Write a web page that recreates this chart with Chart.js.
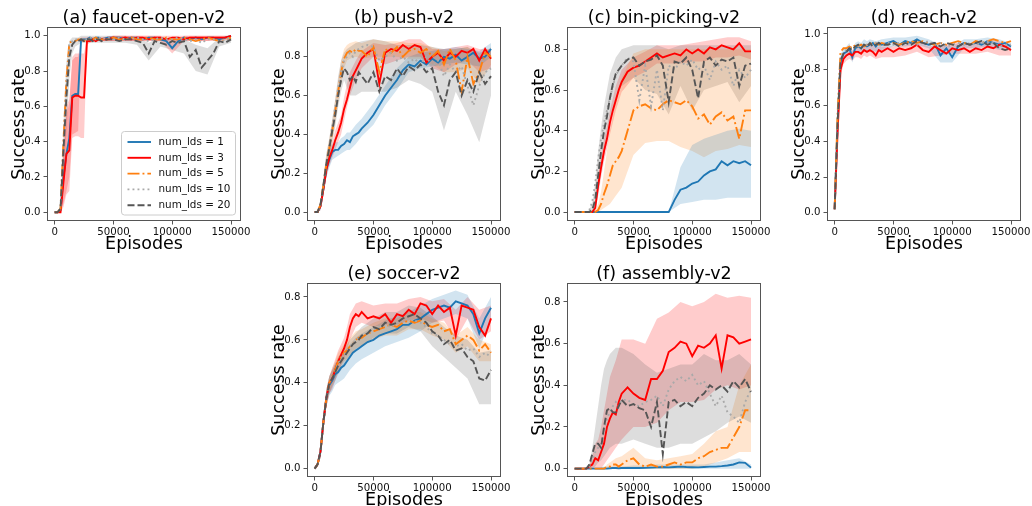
<!DOCTYPE html>
<html>
<head>
<meta charset="utf-8">
<title>Success rate vs episodes</title>
<script src="https://cdn.jsdelivr.net/npm/chart.js@4.4.1/dist/chart.umd.min.js"></script>
<style>
  html, body { margin: 0; padding: 0; background: #fff; }
  body { width: 1032px; height: 506px; overflow: hidden; position: relative; }
  canvas { position: absolute; }
</style>
</head>
<body>
<script>
// x grid for the mean curves and a coarser one for the shaded std bands
const episodes = [0, 2500, 5000, 7500, 10000, 12500, 15000, 17500, 20000, 22500, 25000, 27500, 30000, 32500, 35000, 37500, 40000,
  45000, 50000, 55000, 60000, 65000, 70000, 75000, 80000, 85000, 90000, 95000, 100000, 105000, 110000, 115000, 120000, 125000, 130000, 135000, 140000, 145000, 150000];
const bandEpisodes = [0, 2500, 5000, 7500, 10000, 12500, 15000, 17500, 20000, 22500, 25000, 27500, 30000, 35000, 40000,
  50000, 60000, 70000, 80000, 90000, 100000, 110000, 120000, 130000, 140000, 150000];
const xTicks = [0, 50000, 100000, 150000];
const yTicksFull = [0, 0.2, 0.4, 0.6, 0.8, 1.0];
const yTicksShort = [0, 0.2, 0.4, 0.6, 0.8];
const seriesNames = ['num_lds = 1', 'num_lds = 3', 'num_lds = 5', 'num_lds = 10', 'num_lds = 20'];

// (a) faucet-open-v2
const faucetLds1 = [0, 0, 0.01, 0.2, 0.33, 0.42, 0.66, 0.67, 0.67, 0.98, 0.98, 0.98, 0.99, 0.98, 0.99, 0.99, 0.98,
  0.99, 0.99, 0.99, 0.98, 0.99, 0.99, 0.98, 0.99, 0.99, 0.98, 0.97, 0.93, 0.97, 0.99, 0.98, 0.99, 0.98, 0.99, 0.99, 0.98, 0.99, 1.0];
const faucetLds3 = [0, 0, 0, 0.17, 0.33, 0.35, 0.65, 0.66, 0.66, 0.65, 0.65, 0.97, 0.97, 0.98, 0.97, 0.98, 0.98,
  0.98, 0.99, 0.98, 0.99, 0.98, 0.99, 0.99, 0.98, 0.99, 0.99, 0.98, 0.99, 0.99, 0.98, 0.99, 0.99, 0.99, 0.99, 0.99, 0.99, 0.99, 1.0];
const faucetLds5 = [0, 0, 0.02, 0.4, 0.75, 0.96, 0.97, 0.97, 0.98, 0.98, 0.97, 0.98, 0.98, 0.98, 0.99, 0.98, 0.98,
  0.98, 0.99, 0.98, 0.98, 0.99, 0.98, 0.98, 0.99, 0.98, 0.98, 0.99, 0.98, 0.98, 0.99, 0.98, 0.97, 0.98, 0.99, 0.98, 0.97, 0.98, 0.99];
const faucetLds10 = [0, 0, 0.02, 0.38, 0.72, 0.95, 0.97, 0.98, 0.98, 0.98, 0.98, 0.98, 0.99, 0.98, 0.98, 0.99, 0.98,
  0.99, 0.98, 0.99, 0.98, 0.98, 0.99, 0.98, 0.97, 0.98, 0.99, 0.98, 0.98, 0.99, 0.98, 0.97, 0.98, 0.96, 0.98, 0.98, 0.97, 0.98, 0.99];
const faucetLds20 = [0, 0, 0.02, 0.35, 0.65, 0.88, 0.95, 0.97, 0.97, 0.98, 0.97, 0.98, 0.98, 0.97, 0.98, 0.98, 0.97,
  0.98, 0.98, 0.97, 0.98, 0.98, 0.97, 0.96, 0.9, 0.97, 0.96, 0.95, 0.97, 0.96, 0.97, 0.88, 0.92, 0.82, 0.86, 0.9, 0.97, 0.96, 0.98];
const faucetBand1Lo = [0, 0, 0, 0.05, 0.12, 0.2, 0.44, 0.45, 0.46, 0.96, 0.97, 0.97, 0.97, 0.97, 0.97, 0.97, 0.97, 0.97, 0.97, 0.97, 0.9, 0.97, 0.97, 0.97, 0.97, 0.98];
const faucetBand1Hi = [0, 0, 0.02, 0.33, 0.55, 0.62, 0.86, 0.88, 0.88, 0.99, 0.99, 0.99, 0.99, 0.99, 0.99, 1, 1, 1, 1, 1, 0.96, 1, 1, 1, 1, 1];
const faucetBand3Lo = [0, 0, 0, 0.03, 0.1, 0.12, 0.42, 0.43, 0.43, 0.42, 0.42, 0.95, 0.96, 0.97, 0.97, 0.97, 0.97, 0.97, 0.97, 0.97, 0.97, 0.97, 0.97, 0.97, 0.98, 0.99];
const faucetBand3Hi = [0, 0, 0.02, 0.35, 0.6, 0.64, 0.88, 0.9, 0.9, 0.9, 0.9, 0.99, 0.99, 0.99, 0.99, 1, 1, 1, 1, 1, 1, 1, 1, 1, 1, 1];
const faucetBand20Lo = [0, 0, 0, 0.2, 0.45, 0.75, 0.9, 0.94, 0.95, 0.96, 0.96, 0.96, 0.96, 0.96, 0.96, 0.96, 0.96, 0.95, 0.86, 0.94, 0.92, 0.9, 0.8, 0.78, 0.94, 0.96];
const faucetBand20Hi = [0, 0, 0.04, 0.5, 0.85, 0.97, 0.99, 0.99, 0.99, 1, 1, 1, 1, 1, 1, 1, 1, 0.99, 0.96, 0.99, 0.98, 0.98, 0.95, 0.93, 0.99, 1];

// (b) push-v2
const pushLds1 = [0, 0, 0.03, 0.12, 0.22, 0.27, 0.31, 0.32, 0.32, 0.34, 0.35, 0.37, 0.36, 0.39, 0.4, 0.41, 0.43,
  0.46, 0.5, 0.55, 0.6, 0.64, 0.68, 0.73, 0.76, 0.75, 0.78, 0.76, 0.79, 0.77, 0.8, 0.79, 0.81, 0.78, 0.8, 0.82, 0.79, 0.8, 0.84];
const pushLds3 = [0, 0, 0.03, 0.12, 0.22, 0.28, 0.32, 0.37, 0.41, 0.46, 0.53, 0.58, 0.64, 0.7, 0.73, 0.76, 0.79,
  0.82, 0.84, 0.66, 0.82, 0.84, 0.83, 0.86, 0.84, 0.86, 0.85, 0.77, 0.8, 0.82, 0.78, 0.82, 0.8, 0.83, 0.82, 0.84, 0.78, 0.84, 0.79];
const pushLds5 = [0, 0, 0.04, 0.14, 0.25, 0.33, 0.42, 0.52, 0.62, 0.72, 0.79, 0.82, 0.83, 0.82, 0.84, 0.83, 0.83,
  0.8, 0.85, 0.72, 0.84, 0.82, 0.85, 0.8, 0.83, 0.84, 0.82, 0.84, 0.8, 0.83, 0.76, 0.84, 0.78, 0.62, 0.8, 0.66, 0.72, 0.82, 0.8];
const pushLds10 = [0, 0, 0.04, 0.14, 0.26, 0.34, 0.44, 0.54, 0.64, 0.72, 0.78, 0.8, 0.82, 0.8, 0.83, 0.84, 0.85,
  0.86, 0.85, 0.78, 0.8, 0.82, 0.78, 0.8, 0.77, 0.79, 0.76, 0.8, 0.75, 0.78, 0.7, 0.76, 0.72, 0.75, 0.65, 0.55, 0.65, 0.72, 0.74];
const pushLds20 = [0, 0, 0.04, 0.14, 0.25, 0.33, 0.42, 0.5, 0.6, 0.68, 0.74, 0.72, 0.68, 0.7, 0.67, 0.72, 0.7,
  0.66, 0.72, 0.62, 0.7, 0.68, 0.74, 0.7, 0.75, 0.73, 0.76, 0.72, 0.74, 0.62, 0.55, 0.68, 0.72, 0.6, 0.68, 0.62, 0.72, 0.66, 0.7];
const pushBand1Lo = [0, 0, 0.01, 0.09, 0.18, 0.23, 0.27, 0.28, 0.29, 0.3, 0.31, 0.32, 0.32, 0.35, 0.39, 0.45, 0.55, 0.63, 0.72, 0.74, 0.75, 0.76, 0.77, 0.76, 0.75, 0.8];
const pushBand1Hi = [0, 0.01, 0.05, 0.15, 0.26, 0.31, 0.35, 0.36, 0.36, 0.38, 0.39, 0.41, 0.41, 0.45, 0.48, 0.56, 0.65, 0.74, 0.8, 0.82, 0.83, 0.84, 0.85, 0.84, 0.83, 0.87];
const pushBand3Lo = [0, 0, 0.01, 0.09, 0.18, 0.24, 0.28, 0.32, 0.36, 0.4, 0.47, 0.54, 0.6, 0.68, 0.74, 0.8, 0.76, 0.78, 0.8, 0.8, 0.74, 0.72, 0.76, 0.78, 0.72, 0.74];
const pushBand3Hi = [0, 0.01, 0.05, 0.15, 0.26, 0.32, 0.36, 0.42, 0.46, 0.5, 0.59, 0.66, 0.72, 0.78, 0.83, 0.87, 0.86, 0.87, 0.89, 0.89, 0.84, 0.84, 0.85, 0.86, 0.84, 0.84];
const pushBand5Lo = [0, 0, 0.02, 0.1, 0.2, 0.28, 0.37, 0.46, 0.56, 0.66, 0.74, 0.78, 0.79, 0.8, 0.79, 0.8, 0.8, 0.8, 0.79, 0.79, 0.76, 0.72, 0.72, 0.74, 0.66, 0.76];
const pushBand5Hi = [0, 0.01, 0.06, 0.18, 0.3, 0.38, 0.47, 0.58, 0.68, 0.78, 0.84, 0.86, 0.87, 0.88, 0.87, 0.89, 0.88, 0.88, 0.87, 0.87, 0.85, 0.83, 0.84, 0.85, 0.8, 0.85];
const pushBand20Lo = [0, 0, 0.02, 0.1, 0.2, 0.28, 0.36, 0.44, 0.54, 0.62, 0.68, 0.64, 0.6, 0.6, 0.62, 0.62, 0.62, 0.64, 0.68, 0.66, 0.62, 0.42, 0.62, 0.5, 0.36, 0.6];
const pushBand20Hi = [0, 0.01, 0.06, 0.18, 0.3, 0.38, 0.48, 0.58, 0.7, 0.78, 0.82, 0.84, 0.85, 0.87, 0.88, 0.89, 0.88, 0.86, 0.86, 0.86, 0.85, 0.84, 0.84, 0.85, 0.82, 0.84];

// (c) bin-picking-v2
const binLds1 = [0, 0, 0, 0, 0, 0, 0, 0, 0, 0, 0, 0, 0, 0, 0, 0, 0,
  0, 0, 0, 0, 0, 0, 0, 0, 0.06, 0.11, 0.12, 0.14, 0.15, 0.18, 0.2, 0.21, 0.25, 0.23, 0.25, 0.24, 0.25, 0.23];
const binLds3 = [0, 0, 0, 0, 0, 0, 0, 0.02, 0.13, 0.22, 0.3, 0.36, 0.44, 0.5, 0.55, 0.6, 0.64,
  0.69, 0.71, 0.72, 0.74, 0.76, 0.78, 0.76, 0.77, 0.78, 0.77, 0.8, 0.78, 0.8, 0.78, 0.81, 0.8, 0.82, 0.81, 0.8, 0.83, 0.79, 0.79];
const binLds5 = [0, 0, 0, 0, 0, 0, 0, 0, 0.01, 0.04, 0.09, 0.13, 0.18, 0.23, 0.25, 0.27, 0.3,
  0.4, 0.5, 0.52, 0.53, 0.51, 0.5, 0.53, 0.55, 0.54, 0.53, 0.55, 0.52, 0.46, 0.48, 0.43, 0.47, 0.49, 0.45, 0.47, 0.36, 0.5, 0.5];
const binLds10 = [0, 0, 0, 0, 0, 0.01, 0.05, 0.14, 0.26, 0.36, 0.44, 0.5, 0.56, 0.62, 0.67, 0.7, 0.72,
  0.76, 0.74, 0.55, 0.72, 0.52, 0.7, 0.5, 0.72, 0.7, 0.74, 0.72, 0.75, 0.7, 0.72, 0.65, 0.74, 0.7, 0.72, 0.62, 0.7, 0.66, 0.7];
const binLds20 = [0, 0, 0, 0, 0, 0, 0.01, 0.06, 0.18, 0.3, 0.4, 0.47, 0.56, 0.63, 0.68, 0.7, 0.72,
  0.75, 0.76, 0.72, 0.74, 0.75, 0.77, 0.72, 0.54, 0.74, 0.73, 0.76, 0.7, 0.56, 0.74, 0.76, 0.72, 0.75, 0.74, 0.76, 0.62, 0.72, 0.73];
const binBand1Lo = [0, 0, 0, 0, 0, 0, 0, 0, 0, 0, 0, 0, 0, 0, 0, 0, 0, 0, 0, 0.04, 0.05, 0.06, 0.06, 0.07, 0.07, 0.07];
const binBand1Hi = [0, 0, 0, 0, 0, 0, 0, 0, 0, 0, 0, 0, 0, 0, 0, 0, 0, 0, 0, 0.22, 0.33, 0.36, 0.38, 0.4, 0.41, 0.4];
const binBand3Lo = [0, 0, 0, 0, 0, 0, 0, 0, 0.08, 0.17, 0.25, 0.31, 0.38, 0.5, 0.59, 0.66, 0.69, 0.73, 0.73, 0.73, 0.74, 0.74, 0.76, 0.76, 0.77, 0.75];
const binBand3Hi = [0, 0, 0, 0, 0, 0, 0.01, 0.05, 0.18, 0.28, 0.36, 0.42, 0.5, 0.62, 0.7, 0.76, 0.79, 0.82, 0.82, 0.82, 0.83, 0.84, 0.85, 0.86, 0.86, 0.84];
const binBand5Lo = [0, 0, 0, 0, 0, 0, 0, 0, 0, 0.01, 0.02, 0.03, 0.04, 0.08, 0.12, 0.28, 0.34, 0.35, 0.35, 0.32, 0.3, 0.27, 0.3, 0.31, 0.33, 0.32];
const binBand5Hi = [0, 0, 0, 0, 0, 0, 0, 0.01, 0.04, 0.1, 0.2, 0.3, 0.4, 0.55, 0.66, 0.78, 0.8, 0.8, 0.8, 0.8, 0.8, 0.8, 0.8, 0.8, 0.8, 0.8];
const binBand20Lo = [0, 0, 0, 0, 0, 0, 0, 0.02, 0.1, 0.2, 0.28, 0.36, 0.44, 0.56, 0.62, 0.66, 0.6, 0.58, 0.48, 0.62, 0.5, 0.6, 0.62, 0.64, 0.54, 0.62];
const binBand20Hi = [0, 0, 0, 0, 0, 0.01, 0.05, 0.14, 0.3, 0.42, 0.52, 0.6, 0.68, 0.76, 0.8, 0.82, 0.82, 0.82, 0.8, 0.82, 0.82, 0.82, 0.82, 0.82, 0.82, 0.82];

// (d) reach-v2
const reachLds1 = [0.02, 0.5, 0.84, 0.89, 0.9, 0.92, 0.87, 0.92, 0.93, 0.92, 0.94, 0.93, 0.94, 0.95, 0.93, 0.95, 0.94,
  0.95, 0.96, 0.94, 0.96, 0.95, 0.97, 0.95, 0.94, 0.95, 0.88, 0.92, 0.87, 0.93, 0.95, 0.94, 0.95, 0.94, 0.96, 0.95, 0.94, 0.95, 0.93];
const reachLds3 = [0.02, 0.45, 0.8, 0.86, 0.88, 0.89, 0.88, 0.9, 0.9, 0.89, 0.91, 0.9, 0.91, 0.9, 0.88, 0.91, 0.9,
  0.92, 0.9, 0.92, 0.91, 0.92, 0.94, 0.91, 0.9, 0.93, 0.91, 0.89, 0.92, 0.91, 0.92, 0.9, 0.92, 0.91, 0.93, 0.92, 0.94, 0.93, 0.91];
const reachLds5 = [0.02, 0.55, 0.9, 0.92, 0.92, 0.93, 0.92, 0.94, 0.93, 0.94, 0.93, 0.94, 0.95, 0.94, 0.95, 0.94, 0.95,
  0.94, 0.95, 0.94, 0.95, 0.96, 0.95, 0.96, 0.95, 0.94, 0.95, 0.94, 0.95, 0.96, 0.95, 0.94, 0.96, 0.95, 0.96, 0.97, 0.96, 0.95, 0.96];
const reachLds10 = [0.02, 0.52, 0.87, 0.9, 0.91, 0.92, 0.93, 0.92, 0.93, 0.94, 0.93, 0.94, 0.93, 0.94, 0.95, 0.94, 0.93,
  0.95, 0.94, 0.95, 0.94, 0.95, 0.94, 0.95, 0.96, 0.94, 0.95, 0.93, 0.94, 0.95, 0.94, 0.95, 0.94, 0.95, 0.96, 0.95, 0.93, 0.94, 0.94];
const reachLds20 = [0.02, 0.5, 0.85, 0.89, 0.9, 0.92, 0.91, 0.93, 0.94, 0.92, 0.94, 0.93, 0.95, 0.93, 0.94, 0.95, 0.94,
  0.94, 0.95, 0.93, 0.95, 0.94, 0.96, 0.95, 0.94, 0.95, 0.93, 0.95, 0.94, 0.93, 0.95, 0.94, 0.95, 0.96, 0.94, 0.95, 0.92, 0.91, 0.92];
const reachBand1Lo = [0.01, 0.4, 0.8, 0.86, 0.87, 0.89, 0.84, 0.89, 0.9, 0.9, 0.91, 0.9, 0.91, 0.9, 0.91, 0.93, 0.93, 0.94, 0.92, 0.84, 0.84, 0.92, 0.92, 0.93, 0.91, 0.91];
const reachBand1Hi = [0.03, 0.6, 0.88, 0.92, 0.93, 0.95, 0.9, 0.95, 0.96, 0.95, 0.97, 0.96, 0.97, 0.96, 0.97, 0.98, 0.98, 0.99, 0.97, 0.94, 0.93, 0.97, 0.97, 0.98, 0.97, 0.95];
const reachBand3Lo = [0.01, 0.35, 0.76, 0.83, 0.85, 0.86, 0.85, 0.87, 0.87, 0.86, 0.88, 0.87, 0.88, 0.86, 0.87, 0.87, 0.88, 0.9, 0.87, 0.88, 0.89, 0.89, 0.89, 0.9, 0.88, 0.88];
const reachBand3Hi = [0.03, 0.55, 0.85, 0.89, 0.91, 0.92, 0.91, 0.93, 0.93, 0.92, 0.94, 0.93, 0.94, 0.93, 0.93, 0.93, 0.94, 0.96, 0.93, 0.94, 0.95, 0.95, 0.95, 0.96, 0.96, 0.94];

// (e) soccer-v2
const soccerLds1 = [0, 0.02, 0.08, 0.22, 0.33, 0.39, 0.41, 0.44, 0.45, 0.47, 0.48, 0.5, 0.52, 0.54, 0.55, 0.56, 0.57,
  0.59, 0.6, 0.62, 0.63, 0.64, 0.65, 0.67, 0.67, 0.69, 0.7, 0.72, 0.74, 0.75, 0.76, 0.75, 0.78, 0.77, 0.76, 0.72, 0.63, 0.7, 0.75];
const soccerLds3 = [0, 0.02, 0.08, 0.22, 0.33, 0.4, 0.42, 0.46, 0.5, 0.53, 0.56, 0.6, 0.66, 0.7, 0.72, 0.71, 0.73,
  0.7, 0.71, 0.7, 0.72, 0.68, 0.72, 0.71, 0.74, 0.72, 0.77, 0.76, 0.72, 0.76, 0.73, 0.75, 0.62, 0.76, 0.75, 0.74, 0.66, 0.62, 0.7];
const soccerLds5 = [0, 0.02, 0.08, 0.22, 0.33, 0.4, 0.43, 0.46, 0.5, 0.52, 0.54, 0.55, 0.57, 0.58, 0.6, 0.61, 0.61,
  0.63, 0.64, 0.65, 0.66, 0.67, 0.66, 0.68, 0.69, 0.68, 0.69, 0.67, 0.66, 0.67, 0.64, 0.65, 0.58, 0.6, 0.62, 0.6, 0.55, 0.58, 0.54];
const soccerLds10 = [0, 0.02, 0.08, 0.22, 0.33, 0.4, 0.42, 0.45, 0.49, 0.51, 0.53, 0.55, 0.57, 0.58, 0.6, 0.61, 0.62,
  0.63, 0.65, 0.66, 0.67, 0.66, 0.68, 0.69, 0.7, 0.69, 0.68, 0.66, 0.63, 0.62, 0.6, 0.58, 0.57, 0.58, 0.55, 0.56, 0.52, 0.54, 0.52];
const soccerLds20 = [0, 0.02, 0.08, 0.22, 0.33, 0.4, 0.42, 0.45, 0.48, 0.5, 0.52, 0.54, 0.56, 0.58, 0.59, 0.6, 0.62,
  0.63, 0.66, 0.65, 0.68, 0.67, 0.68, 0.7, 0.71, 0.72, 0.7, 0.68, 0.64, 0.62, 0.58, 0.6, 0.55, 0.56, 0.52, 0.5, 0.42, 0.41, 0.46];
const soccerBand1Lo = [0, 0.01, 0.05, 0.18, 0.29, 0.34, 0.36, 0.39, 0.4, 0.41, 0.42, 0.44, 0.46, 0.49, 0.51, 0.54, 0.57, 0.59, 0.61, 0.64, 0.68, 0.7, 0.72, 0.7, 0.56, 0.69];
const soccerBand1Hi = [0, 0.03, 0.11, 0.26, 0.37, 0.43, 0.46, 0.49, 0.5, 0.53, 0.54, 0.56, 0.58, 0.61, 0.63, 0.66, 0.69, 0.71, 0.73, 0.76, 0.79, 0.81, 0.83, 0.81, 0.7, 0.8];
const soccerBand3Lo = [0, 0.01, 0.05, 0.18, 0.29, 0.35, 0.37, 0.41, 0.45, 0.48, 0.51, 0.55, 0.6, 0.66, 0.68, 0.66, 0.67, 0.67, 0.69, 0.7, 0.68, 0.69, 0.6, 0.7, 0.6, 0.64];
const soccerBand3Hi = [0, 0.03, 0.11, 0.26, 0.37, 0.43, 0.47, 0.51, 0.55, 0.58, 0.61, 0.66, 0.72, 0.77, 0.78, 0.76, 0.77, 0.77, 0.79, 0.8, 0.78, 0.79, 0.74, 0.8, 0.74, 0.76];
const soccerBand5Lo = [0, 0.01, 0.05, 0.18, 0.29, 0.35, 0.39, 0.42, 0.46, 0.48, 0.5, 0.51, 0.53, 0.56, 0.57, 0.6, 0.62, 0.62, 0.65, 0.65, 0.62, 0.6, 0.54, 0.57, 0.5, 0.5];
const soccerBand5Hi = [0, 0.03, 0.11, 0.26, 0.37, 0.43, 0.47, 0.5, 0.54, 0.56, 0.58, 0.59, 0.61, 0.64, 0.65, 0.68, 0.7, 0.7, 0.73, 0.73, 0.7, 0.68, 0.62, 0.66, 0.6, 0.58];
const soccerBand20Lo = [0, 0.01, 0.05, 0.18, 0.29, 0.35, 0.38, 0.41, 0.44, 0.46, 0.48, 0.5, 0.52, 0.55, 0.57, 0.61, 0.63, 0.63, 0.66, 0.64, 0.57, 0.52, 0.47, 0.42, 0.3, 0.3];
const soccerBand20Hi = [0, 0.03, 0.11, 0.26, 0.37, 0.43, 0.46, 0.49, 0.52, 0.54, 0.56, 0.58, 0.6, 0.63, 0.66, 0.7, 0.73, 0.73, 0.76, 0.75, 0.71, 0.66, 0.62, 0.6, 0.54, 0.55];

// (f) assembly-v2
const asmLds1 = [0, 0, 0, 0, 0, 0, 0, 0, 0, 0, 0, 0, 0.002, 0.003, 0.003, 0.002, 0.003,
  0.003, 0.004, 0.003, 0.004, 0.005, 0.006, 0.008, 0.006, 0.008, 0.01, 0.008, 0.007, 0.006, 0.008, 0.01, 0.01, 0.012, 0.015, 0.02, 0.03, 0.028, 0.005];
const asmLds3 = [0, 0, 0, 0, 0, 0.01, 0.02, 0.05, 0.04, 0.08, 0.12, 0.2, 0.24, 0.27, 0.26, 0.32, 0.36,
  0.39, 0.36, 0.34, 0.33, 0.43, 0.43, 0.47, 0.56, 0.58, 0.61, 0.6, 0.54, 0.59, 0.58, 0.6, 0.64, 0.48, 0.64, 0.63, 0.6, 0.61, 0.62];
const asmLds5 = [0, 0, 0, 0, 0, 0, 0, 0, 0, 0, 0, 0.01, 0.01, 0.02, 0.02, 0.01, 0.02,
  0.04, 0.05, 0.02, 0.01, 0.02, 0.01, 0.01, 0.02, 0.03, 0.02, 0.03, 0.03, 0.05, 0.06, 0.08, 0.09, 0.1, 0.1, 0.15, 0.2, 0.28, 0.28];
const asmLds10 = [0, 0, 0, 0, 0, 0.01, 0.04, 0.08, 0.1, 0.12, 0.18, 0.24, 0.27, 0.3, 0.32, 0.3, 0.33,
  0.33, 0.31, 0.3, 0.32, 0.33, 0.35, 0.3, 0.38, 0.42, 0.44, 0.42, 0.45, 0.4, 0.42, 0.36, 0.3, 0.35, 0.27, 0.25, 0.22, 0.32, 0.38];
const asmLds20 = [0, 0, 0, 0, 0, 0.02, 0.07, 0.12, 0.12, 0.1, 0.2, 0.28, 0.29, 0.27, 0.27, 0.3, 0.33,
  0.3, 0.31, 0.29, 0.28, 0.2, 0.32, 0.07, 0.32, 0.33, 0.3, 0.32, 0.3, 0.34, 0.36, 0.4, 0.38, 0.4, 0.37, 0.42, 0.39, 0.43, 0.37];
const asmBand1Lo = [0, 0, 0, 0, 0, 0, 0, 0, 0, 0, 0, 0, 0, 0, 0, 0, 0, 0, 0, 0, 0, 0, 0, 0, 0, 0];
const asmBand1Hi = [0, 0, 0, 0, 0, 0, 0, 0, 0, 0.005, 0.01, 0.01, 0.01, 0.01, 0.01, 0.015, 0.015, 0.02, 0.02, 0.02, 0.02, 0.02, 0.03, 0.04, 0.05, 0.02];
const asmBand3Lo = [0, 0, 0, 0, 0, 0, 0, 0, 0, 0, 0.02, 0.04, 0.06, 0.1, 0.14, 0.2, 0.2, 0.22, 0.28, 0.32, 0.32, 0.33, 0.38, 0.4, 0.38, 0.4];
const asmBand3Hi = [0, 0, 0, 0, 0, 0.02, 0.06, 0.12, 0.14, 0.2, 0.28, 0.36, 0.44, 0.52, 0.62, 0.62, 0.6, 0.72, 0.75, 0.8, 0.78, 0.8, 0.84, 0.82, 0.83, 0.82];
const asmBand5Lo = [0, 0, 0, 0, 0, 0, 0, 0, 0, 0, 0, 0, 0, 0, 0, 0, 0, 0, 0, 0, 0, 0.01, 0.03, 0.05, 0.08, 0.08];
const asmBand5Hi = [0, 0, 0, 0, 0, 0, 0, 0, 0, 0, 0, 0.02, 0.03, 0.05, 0.06, 0.1, 0.05, 0.04, 0.05, 0.06, 0.07, 0.12, 0.18, 0.2, 0.4, 0.5];
const asmBand20Lo = [0, 0, 0, 0, 0, 0, 0, 0.01, 0.03, 0.04, 0.06, 0.08, 0.1, 0.12, 0.12, 0.14, 0.12, 0.1, 0.1, 0.12, 0.12, 0.15, 0.18, 0.22, 0.25, 0.22];
const asmBand20Hi = [0, 0, 0, 0, 0, 0.02, 0.1, 0.2, 0.3, 0.4, 0.48, 0.52, 0.55, 0.58, 0.58, 0.55, 0.5, 0.46, 0.48, 0.5, 0.5, 0.55, 0.52, 0.52, 0.55, 0.5];

// styles
const seriesColors = ['#1f77b4', '#ff0000', '#ff7f0e', '#a9a9a9', '#555555'];
const seriesDash = [[], [], [12, 3, 1.9, 3], [1.9, 3.1], [7, 3]];
const bandColors = ['rgba(31,119,180,0.2)', 'rgba(255,0,0,0.2)', 'rgba(255,127,14,0.2)', 'rgba(169,169,169,0.2)', 'rgba(85,85,85,0.2)'];

Chart.defaults.font.family = '"DejaVu Sans"';
Chart.defaults.color = '#111';

const panels = [
  { title: '(a) faucet-open-v2', left: 0, top: 0, yMin: -0.05, yMax: 1.05, yTicks: yTicksFull, legend: true,
    lines: [faucetLds1, faucetLds3, faucetLds5, faucetLds10, faucetLds20],
    bands: [[1, faucetBand1Lo, faucetBand1Hi], [1, faucetBand3Lo, faucetBand3Hi], [4, faucetBand20Lo, faucetBand20Hi]] },
  { title: '(b) push-v2', left: 260, top: 0, yMin: -0.046, yMax: 0.953, yTicks: yTicksShort,
    lines: [pushLds1, pushLds3, pushLds5, pushLds10, pushLds20],
    bands: [[4, pushBand20Lo, pushBand20Hi], [0, pushBand1Lo, pushBand1Hi], [2, pushBand5Lo, pushBand5Hi], [1, pushBand3Lo, pushBand3Hi]] },
  { title: '(c) bin-picking-v2', left: 520, top: 0, yMin: -0.044, yMax: 0.91, yTicks: yTicksShort,
    lines: [binLds1, binLds3, binLds5, binLds10, binLds20],
    bands: [[0, binBand1Lo, binBand1Hi], [2, binBand5Lo, binBand5Hi], [4, binBand20Lo, binBand20Hi], [1, binBand3Lo, binBand3Hi]] },
  { title: '(d) reach-v2', left: 780, top: 0, yMin: -0.046, yMax: 1.039, yTicks: yTicksFull,
    lines: [reachLds1, reachLds3, reachLds5, reachLds10, reachLds20],
    bands: [[0, reachBand1Lo, reachBand1Hi], [1, reachBand3Lo, reachBand3Hi]] },
  { title: '(e) soccer-v2', left: 260, top: 256, yMin: -0.039, yMax: 0.865, yTicks: yTicksShort,
    lines: [soccerLds1, soccerLds3, soccerLds5, soccerLds10, soccerLds20],
    bands: [[4, soccerBand20Lo, soccerBand20Hi], [2, soccerBand5Lo, soccerBand5Hi], [0, soccerBand1Lo, soccerBand1Hi], [1, soccerBand3Lo, soccerBand3Hi]] },
  { title: '(f) assembly-v2', left: 520, top: 256, yMin: -0.04, yMax: 0.891, yTicks: yTicksShort,
    lines: [asmLds1, asmLds3, asmLds5, asmLds10, asmLds20],
    bands: [[4, asmBand20Lo, asmBand20Hi], [2, asmBand5Lo, asmBand5Hi], [0, asmBand1Lo, asmBand1Hi], [1, asmBand3Lo, asmBand3Hi]] }
];

function toPoints(xs, ys) {
  return xs.map((x, i) => ({ x: x, y: ys[i] }));
}

function buildDatasets(p) {
  const sets = [];
  // std bands first, lower edge then upper edge filled down to it
  p.bands.forEach(([k, lo, hi]) => {
    sets.push({ data: toPoints(bandEpisodes, lo), borderColor: 'transparent', borderWidth: 0, pointRadius: 0, fill: false, order: 20 });
    sets.push({ data: toPoints(bandEpisodes, hi), borderColor: 'transparent', borderWidth: 0, pointRadius: 0, fill: '-1', backgroundColor: bandColors[k], order: 20 });
  });
  p.lines.forEach((ys, k) => {
    sets.push({
      label: seriesNames[k],
      data: toPoints(episodes, ys),
      borderColor: seriesColors[k],
      borderWidth: 1.9,
      borderDash: seriesDash[k],
      pointRadius: 0,
      fill: false,
      tension: 0,
      order: 5 - k
    });
  });
  return sets;
}

// full box around the axes, like matplotlib spines
const framePlugin = {
  id: 'axesFrame',
  afterDatasetsDraw(chart) {
    const { ctx, chartArea: a } = chart;
    ctx.save();
    ctx.strokeStyle = '#555';
    ctx.lineWidth = 1;
    ctx.strokeRect(Math.round(a.left) + 0.5, Math.round(a.top) + 0.5, Math.round(a.width) - 1, Math.round(a.height) - 1);
    ctx.restore();
  }
};

// legend box in the lower right of panel (a)
const legendPlugin = {
  id: 'cornerLegend',
  afterDraw(chart) {
    const { ctx, chartArea: a } = chart;
    const x0 = a.right - 119.5;
    const y0 = a.bottom - 89.5;
    ctx.save();
    ctx.beginPath();
    ctx.roundRect(x0, y0, 114, 83.5, 3);
    ctx.fillStyle = 'rgba(255,255,255,0.8)';
    ctx.fill();
    ctx.strokeStyle = '#cccccc';
    ctx.lineWidth = 1;
    ctx.stroke();
    ctx.font = '10.4px "DejaVu Sans"';
    ctx.textBaseline = 'middle';
    seriesNames.forEach((name, k) => {
      const y = y0 + 10.5 + k * 15.8;
      ctx.beginPath();
      ctx.setLineDash(seriesDash[k]);
      ctx.strokeStyle = seriesColors[k];
      ctx.lineWidth = 1.9;
      ctx.moveTo(x0 + 6, y);
      ctx.lineTo(x0 + 29.5, y);
      ctx.stroke();
      ctx.setLineDash([]);
      ctx.fillStyle = '#111';
      ctx.fillText(name, x0 + 37, y);
    });
    ctx.restore();
  }
};

panels.forEach((p) => {
  const canvas = document.createElement('canvas');
  canvas.width = 271;
  canvas.height = 256;
  canvas.style.left = p.left + 'px';
  canvas.style.top = p.top + 'px';
  document.body.appendChild(canvas);

  new Chart(canvas, {
    type: 'line',
    data: { datasets: buildDatasets(p) },
    options: {
      responsive: false,
      animation: false,
      devicePixelRatio: 1,
      events: [],
      layout: { padding: { right: 30 } },
      plugins: {
        legend: { display: false },
        tooltip: { enabled: false },
        title: {
          display: true,
          text: p.title,
          fullSize: false,
          color: '#000',
          font: { size: 17.5, weight: 'normal', lineHeight: 1 },
          padding: { top: 9.5, bottom: 0 }
        }
      },
      scales: {
        x: {
          type: 'linear',
          min: -6500,
          max: 158500,
          afterBuildTicks: (scale) => { scale.ticks = xTicks.map(v => ({ value: v })); },
          afterFit: (scale) => { scale.height = 35; },
          ticks: { callback: (v) => String(v), font: { size: 10.2 }, color: '#111', padding: 1.5, maxRotation: 0, autoSkip: false },
          grid: { drawOnChartArea: false, tickLength: 3.5, color: '#555' },
          border: { display: false },
          title: { display: true, text: 'Episodes', color: '#000', font: { size: 17.5, lineHeight: 1 }, padding: { top: 0, bottom: 3 } }
        },
        y: {
          min: p.yMin,
          max: p.yMax,
          afterBuildTicks: (scale) => { scale.ticks = p.yTicks.map(v => ({ value: v })); },
          afterFit: (scale) => { scale.width = 47; },
          ticks: { callback: (v) => Number(v).toFixed(1), font: { size: 10.2 }, color: '#111', padding: 3 },
          grid: { drawOnChartArea: false, tickLength: 3.5, color: '#555' },
          border: { display: false },
          title: { display: true, text: 'Success rate', color: '#000', font: { size: 17.5, lineHeight: 1 }, padding: { top: 10.5, bottom: 0 } }
        }
      }
    },
    plugins: p.legend ? [framePlugin, legendPlugin] : [framePlugin]
  });
});
</script>
</body>
</html>
